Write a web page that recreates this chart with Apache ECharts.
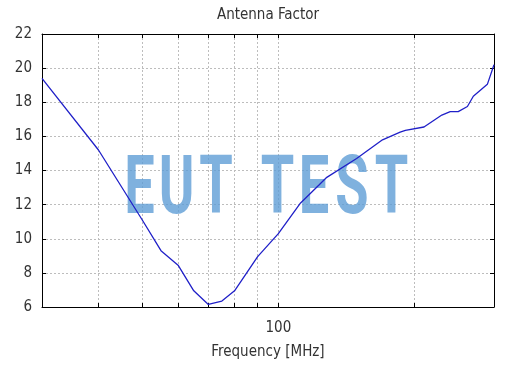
<!DOCTYPE html>
<html>
<head>
<meta charset="utf-8">
<script src="https://cdn.jsdelivr.net/npm/echarts@6/dist/echarts.min.js"></script>
<style>html,body{margin:0;padding:0;background:#fff}#c{width:521px;height:371px}</style>
</head>
<body>
<div id="c"></div>
<script>
var freqs = [30, 40, 50, 55, 60, 65, 70, 75, 80, 90, 100, 112, 123, 128, 149, 170, 186, 191, 210, 230, 240, 250, 262, 270, 290, 300];
var afValues = [19.4, 15.2, 11.1, 9.3, 8.45, 6.95, 6.15, 6.35, 6.95, 8.95, 10.3, 12.1, 13.15, 13.6, 14.7, 15.8, 16.25, 16.35, 16.55, 17.25, 17.45, 17.45, 17.75, 18.35, 19.05, 20.2];
var xGridValues = [40, 50, 60, 70, 80, 90, 100, 200];
var xLabelValues = [100];
var watermarkText = 'EUT TEST';

var chart = echarts.init(document.getElementById('c'));
var data = freqs.map(function (f, i) { return [f, afValues[i]]; });
var font = 'DejaVu Sans Condensed';
var gridLine = { show: true, lineStyle: { color: '#bdbdbd', type: [2, 2], width: 1 } };

// watermark letter centres (layout only)
var letterX = [139.5, 176.5, 216, null, 277.5, 314, 352, 391.5];
var wm = [];
watermarkText.split('').forEach(function (ch, i) {
  if (ch === ' ') return;
  wm.push({
    type: 'text', x: letterX[i], y: 192, z: 1, scaleX: 0.66, silent: true,
    style: {
      text: ch, fontFamily: 'Roboto', fontWeight: 'bold', fontSize: 82,
      fill: 'rgba(91,155,213,0.78)', align: 'center', verticalAlign: 'middle'
    }
  });
});

chart.setOption({
  animation: false,
  title: {
    text: 'Antenna Factor', left: 263, textAlign: 'center', top: 3,
    textStyle: { fontFamily: font, fontSize: 15, fontWeight: 'normal', color: '#333' }
  },
  grid: { left: 42, right: 27, top: 34, bottom: 64, containLabel: false },
  graphic: wm,
  xAxis: [{
    type: 'log', logBase: 10, min: 30, max: 300, position: 'bottom',
    name: 'Frequency [MHz]', nameLocation: 'middle', nameGap: 38,
    nameTextStyle: { fontFamily: font, fontSize: 15, color: '#333' },
    axisLine: { show: true, onZero: false, lineStyle: { color: '#000', width: 1 } },
    axisTick: { show: true, inside: true, length: 4, customValues: xGridValues, lineStyle: { color: '#000' } },
    axisLabel: { customValues: xLabelValues, fontFamily: font, fontSize: 15, color: '#333', margin: 14 },
    splitLine: gridLine,
    minorTick: { show: false }, minorSplitLine: { show: false }
  }, {
    type: 'log', logBase: 10, min: 30, max: 300, position: 'top',
    axisLine: { show: true, onZero: false, lineStyle: { color: '#000', width: 1 } },
    axisTick: { show: true, inside: true, length: 4, customValues: xGridValues, lineStyle: { color: '#000' } },
    axisLabel: { show: false },
    splitLine: { show: false }
  }],
  yAxis: [{
    type: 'value', min: 6, max: 22, interval: 2, position: 'left',
    axisLine: { show: true, onZero: false, lineStyle: { color: '#000', width: 1 } },
    axisTick: { show: true, inside: true, length: 4, lineStyle: { color: '#000' } },
    axisLabel: { fontFamily: font, fontSize: 15, color: '#333', margin: 10 },
    splitLine: gridLine
  }, {
    type: 'value', min: 6, max: 22, interval: 2, position: 'right',
    axisLine: { show: true, onZero: false, lineStyle: { color: '#000', width: 1 } },
    axisTick: { show: true, inside: true, length: 4, lineStyle: { color: '#000' } },
    axisLabel: { show: false },
    splitLine: { show: false }
  }],
  series: [{
    type: 'line', data: data, xAxisIndex: 0, yAxisIndex: 0, z: 5,
    showSymbol: false, symbol: 'none',
    lineStyle: { color: '#2020c8', width: 1.3 }
  }]
});
</script>
</body>
</html>
